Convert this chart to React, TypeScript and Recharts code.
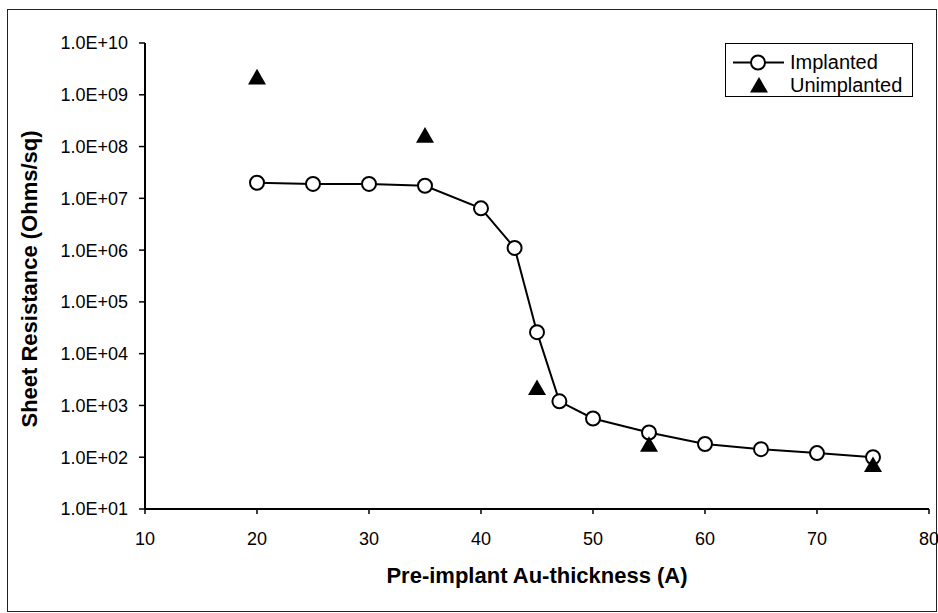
import React from "react";
import { ScatterChart, Scatter, XAxis, YAxis, Legend } from "recharts";

// Pre-implant Au thickness (A) vs sheet resistance (Ohms/sq)
const implantedThickness = [20, 25, 30, 35, 40, 43, 45, 47, 50, 55, 60, 65, 70, 75];
const implantedResistance = [2.0e7, 1.9e7, 1.9e7, 1.75e7, 6.4e6, 1.1e6, 2.6e4, 1.2e3, 5.6e2, 3.0e2, 1.8e2, 1.43e2, 1.2e2, 1.0e2];

const unimplantedThickness = [20, 35, 45, 55, 75];
const unimplantedResistance = [2.0e9, 1.5e8, 2.0e3, 1.6e2, 65];

const xTicks = [10, 20, 30, 40, 50, 60, 70, 80];
const yTicks = [1e1, 1e2, 1e3, 1e4, 1e5, 1e6, 1e7, 1e8, 1e9, 1e10];

const implanted = implantedThickness.map((x, i) => ({ x, y: implantedResistance[i] }));
const unimplanted = unimplantedThickness.map((x, i) => ({ x, y: unimplantedResistance[i] }));

const FONT = "'Liberation Sans', Arial, sans-serif";

const sciFormat = (v: number) => {
  const e = Math.round(Math.log10(v));
  return `1.0E+${String(e).padStart(2, "0")}`;
};

const CircleMarker = (props: any) => (
  <circle cx={props.cx} cy={props.cy} r={7} fill="#fff" stroke="#000" strokeWidth={2} />
);

const TriangleMarker = (props: any) => {
  const { cx, cy } = props;
  const s = 18;
  const h = (s * Math.sqrt(3)) / 2;
  return (
    <path
      d={`M${cx},${cy - (2 * h) / 3} L${cx + s / 2},${cy + h / 3} L${cx - s / 2},${cy + h / 3} Z`}
      fill="#000"
    />
  );
};

const LegendBox = () => (
  <div
    style={{
      width: 188,
      height: 54,
      boxSizing: "border-box",
      border: "1px solid #000",
      background: "#fff",
      fontFamily: FONT,
      fontSize: 20,
      color: "#000",
      paddingTop: 7,
    }}
  >
    <div style={{ display: "flex", alignItems: "center", height: 23 }}>
      <svg width={64} height={23}>
        <line x1={7} y1={11.5} x2={58} y2={11.5} stroke="#000" strokeWidth={2} />
        <circle cx={32} cy={11.5} r={7} fill="#fff" stroke="#000" strokeWidth={2} />
      </svg>
      <span>Implanted</span>
    </div>
    <div style={{ display: "flex", alignItems: "center", height: 23 }}>
      <svg width={64} height={23}>
        <path d="M33,3 L42,18.5 L24,18.5 Z" fill="#000" />
      </svg>
      <span>Unimplanted</span>
    </div>
  </div>
);

export default function App() {
  return (
    <div style={{ position: "absolute", left: 0, top: 0, width: 938, height: 613, background: "#fff" }}>
      <div
        style={{
          position: "absolute",
          left: 7,
          top: 9,
          width: 930,
          height: 603,
          boxSizing: "border-box",
          border: "1.5px solid #222",
        }}
      />
      <ScatterChart
        width={938}
        height={613}
        margin={{ top: 43, right: 9, bottom: 0, left: 0 }}
        style={{ position: "absolute", left: 0, top: 0 }}
      >
        <XAxis
          dataKey="x"
          type="number"
          domain={[10, 80]}
          ticks={xTicks}
          height={104}
          tickSize={5}
          tickMargin={18}
          axisLine={{ stroke: "#000", strokeWidth: 2 }}
          tickLine={{ stroke: "#000", strokeWidth: 1.5 }}
          tick={{ fill: "#000", fontSize: 18, fontFamily: FONT }}
          label={{
            value: "Pre-implant Au-thickness (A)",
            position: "insideBottom",
            offset: 30,
            fill: "#000",
            fontSize: 22,
            fontWeight: "bold",
            fontFamily: FONT,
          }}
        />
        <YAxis
          dataKey="y"
          type="number"
          scale="log"
          domain={[10, 1e10]}
          ticks={yTicks}
          allowDataOverflow
          width={145}
          tickSize={6}
          tickMargin={11}
          tickFormatter={sciFormat}
          axisLine={{ stroke: "#000", strokeWidth: 2 }}
          tickLine={{ stroke: "#000", strokeWidth: 1.5 }}
          tick={{ fill: "#000", fontSize: 18, fontFamily: FONT }}
          label={{
            content: (props: any) => {
              const vb = props.viewBox || { x: 0, y: 43, width: 145, height: 466 };
              const cx = vb.x + 37;
              const cy = vb.y + vb.height / 2 + 3;
              return (
                <text
                  x={cx}
                  y={cy}
                  transform={`rotate(-90 ${cx} ${cy})`}
                  textAnchor="middle"
                  fill="#000"
                  fontSize={22}
                  fontWeight="bold"
                  fontFamily={FONT}
                >
                  Sheet Resistance (Ohms/sq)
                </text>
              );
            },
          }}
        />
        <Legend
          layout="vertical"
          align="center"
          verticalAlign="middle"
          content={() => <LegendBox />}
          wrapperStyle={{ left: 725, top: 43, width: 188, height: 54 }}
        />
        <Scatter
          name="Implanted"
          data={implanted}
          line={{ stroke: "#000", strokeWidth: 2 }}
          lineType="joint"
          shape={CircleMarker}
          isAnimationActive={false}
        />
        <Scatter
          name="Unimplanted"
          data={unimplanted}
          shape={TriangleMarker}
          isAnimationActive={false}
        />
      </ScatterChart>
    </div>
  );
}
